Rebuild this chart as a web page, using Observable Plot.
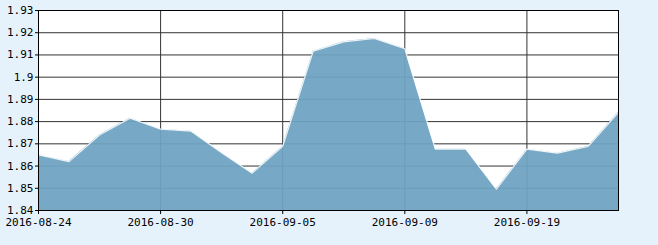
<!DOCTYPE html>
<html>
<head>
<meta charset="utf-8">
<script src="https://cdn.jsdelivr.net/npm/d3@7"></script>
<script src="https://cdn.jsdelivr.net/npm/@observablehq/plot@0.6"></script>
<style>
  html, body { margin: 0; padding: 0; background: #e6f2fb; }
  #chart svg { display: block; }
</style>
</head>
<body>
<div id="chart"></div>
<script>
const dates = [
  "2016-08-24","2016-08-25","2016-08-26","2016-08-29","2016-08-30",
  "2016-08-31","2016-09-01","2016-09-02","2016-09-05","2016-09-06",
  "2016-09-07","2016-09-08","2016-09-09","2016-09-12","2016-09-13",
  "2016-09-14","2016-09-19","2016-09-20","2016-09-21","2016-09-22"
];
const values = [
  1.865, 1.862, 1.874, 1.8815, 1.8766,
  1.8757, 1.866, 1.8568, 1.8689, 1.9117,
  1.9159, 1.9174, 1.9128, 1.8676, 1.8676,
  1.8496, 1.8676, 1.8658, 1.8688, 1.8842
];
const xTickLabels = ["2016-08-24","2016-08-30","2016-09-05","2016-09-09","2016-09-19"];
const yTicks = [1.84,1.85,1.86,1.87,1.88,1.89,1.90,1.91,1.92,1.93];

const data = dates.map((d, i) => ({date: d, value: values[i]}));
const font = "'DejaVu Sans Mono', monospace";

const chart = Plot.plot({
  width: 658,
  height: 245,
  marginLeft: 38,
  marginRight: 40,
  marginTop: 10,
  marginBottom: 35,
  style: {background: "#e6f2fb", fontFamily: font, fontSize: "11px", color: "#000"},
  x: {type: "point", domain: dates, padding: 0, round: false, label: null},
  y: {domain: [1.84, 1.93], label: null},
  marks: [
    Plot.frame({fill: "white", stroke: "none"}),
    Plot.gridY(yTicks, {stroke: "#333", strokeOpacity: 1}),
    Plot.gridX(xTickLabels.slice(1), {stroke: "#333", strokeOpacity: 1}),
    Plot.areaY(data, {x: "date", y1: 1.84, y2: "value", fill: "#6ea4c2", fillOpacity: 0.94}),
    Plot.lineY(data, {x: "date", y: "value", stroke: "#ffffff", strokeWidth: 1.2, strokeOpacity: 0.85}),
    Plot.frame({stroke: "#000"}),
    Plot.axisY(yTicks, {tickSize: 3, tickPadding: 2, tickFormat: d => String(+d.toFixed(2)), fill: "#000", stroke: "#000", fontSize: 11, fontFamily: font, label: null}),
    Plot.axisX(xTickLabels, {tickSize: 4, tickPadding: 4, fill: "#000", stroke: "#000", fontSize: 11, fontFamily: font, label: null})
  ]
});
document.getElementById("chart").appendChild(chart);
</script>
</body>
</html>
